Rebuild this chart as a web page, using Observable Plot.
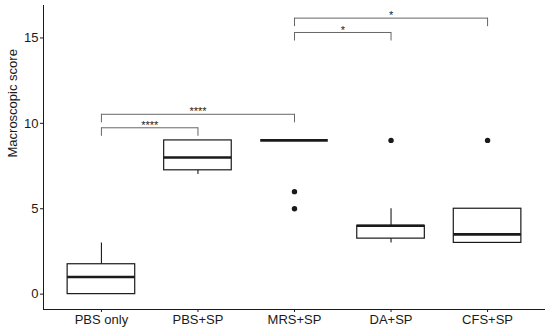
<!DOCTYPE html>
<html>
<head>
<meta charset="utf-8">
<script src="https://cdn.jsdelivr.net/npm/d3@7"></script>
<script src="https://cdn.jsdelivr.net/npm/@observablehq/plot@0.6"></script>
<style>
  html, body { margin: 0; padding: 0; background: #fff; }
  #chart svg { display: block; }
</style>
</head>
<body>
<div id="chart"></div>
<script>
// ---- data ----
const groups = ["PBS only", "PBS+SP", "MRS+SP", "DA+SP", "CFS+SP"];
const whiskerLow  = [0, 7, 9, 3, 3];
const q1          = [0, 7.25, 9, 3.25, 3];
const median      = [1, 8, 9, 4, 3.5];
const q3          = [1.75, 9, 9, 4, 5];
const whiskerHigh = [3, 9, 9, 5, 5];
const outlierGroup = ["MRS+SP", "MRS+SP", "DA+SP", "CFS+SP"];
const outlierValue = [6, 5, 9, 9];
const bracketFrom  = ["PBS only", "PBS only", "MRS+SP", "MRS+SP"];
const bracketTo    = ["PBS+SP", "MRS+SP", "DA+SP", "CFS+SP"];
const bracketY     = [9.74, 10.53, 15.32, 16.16];
const bracketLabel = ["****", "****", "*", "*"];
const yTicks = [0, 5, 10, 15];
const yLabel = "Macroscopic score";

// ---- tables built from the arrays ----
const idx = g => groups.indexOf(g);
const boxes = groups.map((g, i) => ({
  g, i, lo: whiskerLow[i], q1: q1[i], med: median[i], q3: q3[i], hi: whiskerHigh[i]
}));
const outliers = outlierGroup.map((g, k) => ({i: idx(g), v: outlierValue[k]}));
const brackets = bracketFrom.map((g, k) => ({
  a: idx(g), b: idx(bracketTo[k]), y: bracketY[k], label: bracketLabel[k]
}));
const bracketTicks = brackets.flatMap(d => [{x: d.a, y: d.y}, {x: d.b, y: d.y}]);

const half = 0.35;   // half box width (in category units)
const tickDrop = 0.5; // bracket tick length (in y units)
const ink = "#1a1a1a";
const grayLine = "#666";

const chart = Plot.plot({
  width: 550,
  height: 329,
  marginTop: 5,
  marginBottom: 20,
  marginLeft: 43,
  marginRight: 5,
  style: {fontFamily: "'Liberation Sans', Arial, Helvetica, sans-serif", fontSize: "13px", color: ink, background: "#fff"},
  x: {domain: [-0.6, 4.6], axis: null},
  y: {domain: [-0.9, 16.9], axis: null},
  marks: [
    // axes
    Plot.axisY({ticks: yTicks, tickSize: 3, tickPadding: 2, fontSize: 13, label: null, stroke: ink, fill: ink}),
    Plot.axisX({ticks: groups.map((_, i) => i), tickFormat: i => groups[i], tickSize: 3, tickPadding: 2, fontSize: 13, label: null, stroke: ink, fill: ink}),
    Plot.ruleX([-0.6], {stroke: ink, strokeWidth: 1}),
    Plot.ruleY([-0.9], {stroke: ink, strokeWidth: 1}),
    Plot.text([yLabel], {frameAnchor: "left", dx: -31, rotate: -90, fontSize: 13, fill: ink}),
    // whiskers
    Plot.ruleX(boxes, {x: "i", y1: "lo", y2: "hi", stroke: ink, strokeWidth: 1.1}),
    // boxes
    Plot.rect(boxes, {x1: d => d.i - half, x2: d => d.i + half, y1: "q1", y2: "q3", fill: "white", stroke: ink, strokeWidth: 1.2}),
    // medians
    Plot.ruleY(boxes, {x1: d => d.i - half, x2: d => d.i + half, y: "med", stroke: ink, strokeWidth: 2.6}),
    // outliers
    Plot.dot(outliers, {x: "i", y: "v", r: 2.7, fill: ink, stroke: null}),
    // significance brackets
    Plot.link(brackets, {x1: "a", x2: "b", y1: "y", y2: "y", stroke: grayLine, strokeWidth: 1}),
    Plot.ruleX(bracketTicks, {x: "x", y1: "y", y2: d => d.y - tickDrop, stroke: grayLine, strokeWidth: 1}),
    Plot.text(brackets, {x: d => (d.a + d.b) / 2, y: "y", text: "label", dy: -2.5, fontSize: 11, fill: ink})
  ]
});
document.getElementById("chart").appendChild(chart);
</script>
</body>
</html>
